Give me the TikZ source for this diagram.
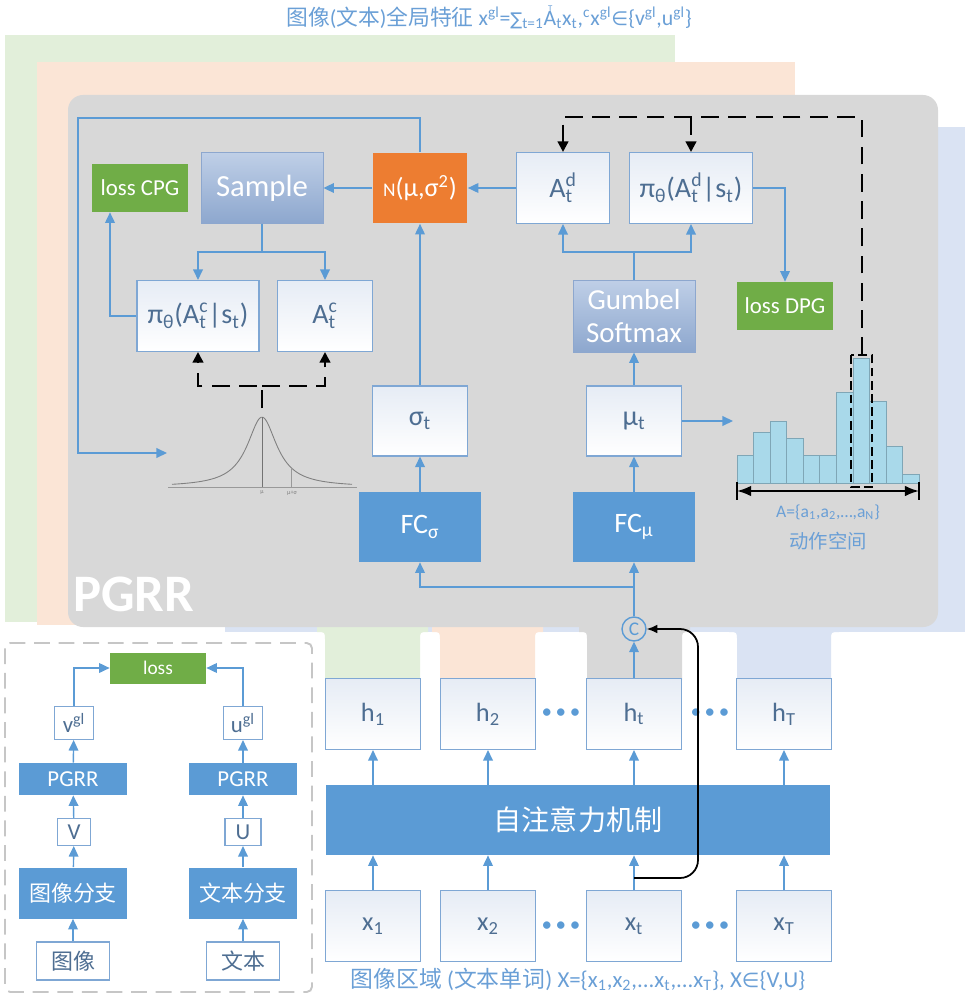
\documentclass[tikz,border=0pt]{standalone}
\usepackage{fontspec}
\setmainfont{Carlito}
\newfontfamily\cjk{Noto Sans CJK SC}
\newfontfamily\symf{DejaVu Sans}
\usepackage{tikz}
\usetikzlibrary{calc}
\usetikzlibrary{arrows.meta}
\usetikzlibrary{positioning}
\definecolor{pblue}{HTML}{5B9BD5}
\definecolor{pgreen}{HTML}{70AD47}
\definecolor{porange}{HTML}{ED7D31}
\definecolor{pgray}{HTML}{D8D8D8}
\definecolor{bggreen}{HTML}{E2EFDA}
\definecolor{bgorange}{HTML}{FBE5D6}
\definecolor{bgblue}{HTML}{DAE3F3}
\definecolor{boxtext}{HTML}{4E6E92}
\definecolor{boxline}{HTML}{7FA7D4}
\definecolor{boxtop}{HTML}{E6ECF5}
\definecolor{histfill}{HTML}{A9D9EA}
\definecolor{histline}{HTML}{7FA6B6}
\definecolor{capblue}{HTML}{6A9FD6}
\definecolor{gradtop}{HTML}{BFCFE7}
\definecolor{gradbot}{HTML}{8DA7CE}
\newcommand{\supsub}[2]{\ooalign{\textsuperscript{#1}\cr\textsubscript{#2}\cr}}
\newcommand{\topA}{\makebox[0pt][l]{\raisebox{1.35ex}{\hspace{0.2em}\fontsize{5}{5}\selectfont T}}A}
\newcommand{\legtab}[3]{\fill[#3] (#1-8,615) -- (#1-8,632) .. controls (#1,632) .. (#1,640) -- (#1,680) -- (#2,680) -- (#2,640) .. controls (#2,632) .. (#2+8,632) -- (#2+8,615) -- cycle;}
\tikzset{>=latex}
\tikzset{
  wbox/.style = {rectangle, draw=boxline, line width=0.6pt, top color=boxtop, bottom color=white, text=boxtext, inner sep=0, minimum width=1.9cm, minimum height=1.42cm, font=\fontsize{16}{18}\selectfont},
  fcbox/.style = {rectangle, fill=pblue, text=white, inner sep=0, minimum width=2.44cm, minimum height=1.4cm, font=\fontsize{16}{18}\selectfont},
  lossbox/.style = {rectangle, fill=pgreen, text=white, inner sep=0, minimum width=1.92cm, minimum height=0.96cm, font=\fontsize{13}{14}\selectfont},
  gradbox/.style = {rectangle, draw=gradbot, line width=0.5pt, top color=gradtop, bottom color=gradbot, text=white, inner sep=0, minimum width=2.44cm, minimum height=1.42cm, font=\fontsize{17.5}{19}\selectfont},
  sbox/.style = {rectangle, draw=boxline, line width=0.6pt, fill=white, text=boxtext, inner sep=0, minimum width=0.78cm, minimum height=0.66cm, font=\fontsize{13}{14}\selectfont},
  sfc/.style = {rectangle, fill=pblue, text=white, inner sep=0, minimum width=2.16cm, minimum height=0.64cm, font=\fontsize{13}{14}\selectfont},
  arr/.style = {draw=pblue, line width=0.8pt, -{Triangle[length=6pt,width=5.5pt]}},
  dasharr/.style = {draw=black, line width=1.3pt, dash pattern=on 10pt off 5.5pt, -{Triangle[length=6pt,width=6pt]}},
  blkarr/.style = {draw=black, line width=1pt, -{Latex[length=6pt,width=5pt]}},
  dotsnode/.style = {text=pblue, inner sep=0, font=\fontsize{12}{12}\selectfont},
  captxt/.style = {text=capblue, inner sep=0},
  histbar/.style = {fill=histfill, draw=histline, line width=0.4pt}
}
\begin{document}
\begin{tikzpicture}[x=0.02cm, y=-0.02cm]
\useasboundingbox (0,0) rectangle (971,1000);
% stacked background panels
\fill[bggreen] (5,35) rectangle (675,622);
\fill[bgorange] (37,62) rectangle (795,625);
\fill[bgblue] (225,127) rectangle (965,632);
\legtab{325}{420}{bggreen}
\legtab{440}{535}{bgorange}
\legtab{737}{831}{bgblue}
\fill[pgray, rounded corners=0.3cm] (68,95) rectangle (938,627);
\legtab{587}{682}{pgray}
\node[text=white, inner sep=0, anchor=base west, font=\bfseries\fontsize{30}{30}\selectfont] (pgrr) at (73,611) {PGRR};

\node[captxt, font=\fontsize{12.4}{14}\selectfont] (title) at (489,17) {{\cjk 图像}({\cjk 文本}){\cjk 全局特征} x\textsuperscript{gl}={\symf\fontsize{10}{12}\selectfont ∑}\textsubscript{t=1}\topA\textsubscript{t}x\textsubscript{t},\textsuperscript{c}x\textsuperscript{gl}{\symf\fontsize{11}{12}\selectfont ∈}\{v\textsuperscript{gl},u\textsuperscript{gl}\}};

% upper part
\node[lossbox] (lossCPG) at (140,188) {loss CPG};
\node[gradbox] (smp) at (262,188) {Sample};
\node[rectangle, fill=porange, text=white, inner sep=0, minimum width=1.9cm, minimum height=1.42cm, font=\fontsize{15}{17}\selectfont] (nrm) at (420,188) {{\fontsize{11}{12}\selectfont N}(μ,σ\textsuperscript{2})};
\node[wbox, minimum width=1.86cm] (Ad) at (563,188) {A\supsub{d}{t}};
\node[wbox, minimum width=2.46cm] (piAd) at (691,188) {π\textsubscript{θ}(A\supsub{d}{t}|s\textsubscript{t})};
\node[wbox, minimum width=2.44cm] (piAc) at (198,316) {π\textsubscript{θ}(A\supsub{c}{t}|s\textsubscript{t})};
\node[wbox] (Ac) at (325,316) {A\supsub{c}{t}};
\node[gradbox, minimum height=1.44cm, align=center, font=\fontsize{16.5}{19}\selectfont] (gum) at (634,316) {Gumbel\\Softmax};
\node[lossbox] (lossDPG) at (785,306) {loss DPG};
\node[wbox, minimum height=1.4cm] (sig) at (420,421) {σ\textsubscript{t}};
\node[wbox, minimum height=1.4cm] (mu) at (634,421) {μ\textsubscript{t}};
\node[fcbox] (fcs) at (420,527) {FC\textsubscript{σ}};
\node[fcbox] (fcm) at (634,527) {FC\textsubscript{μ}};
\node[circle, draw=pblue, line width=0.8pt, text=pblue, inner sep=0, minimum size=0.48cm, font=\fontsize{11}{11}\selectfont] (cat) at (634,629) {C};

% gaussian
\draw[gray!80, line width=0.5pt] (168,487) -- (357,487);
\draw[gray, line width=0.5pt, domain=172:352, samples=90, smooth] plot (\x, {487-70/(1+((\x-262)/18)^2)});
\draw[gray!90!black, line width=0.4pt] (262,417) -- (262,487);
\draw[gray!80, line width=0.3pt] (291,467.5) -- (291,487);
\node[text=gray, inner sep=0, font=\fontsize{3.5}{4}\selectfont] (mulab) at (262,493) {μ};
\node[text=gray, inner sep=0, font=\fontsize{3.5}{4}\selectfont] (msig) at (292,493) {μ+σ};
\coordinate (gtop) at (262,408);
\coordinate (gsplit) at (262,386);
\coordinate (gin) at (167,453);
\coordinate (ltop) at (78,118);

% action space histogram
\foreach \t [count=\i] in {455,432,421,438,455,455,392,358,401,446,474}
  \draw[histbar] ({737+(\i-1)*16.55},483) rectangle ({737+\i*16.55},\t);
\draw[black, line width=1.1pt, dash pattern=on 5pt off 2.5pt] (851,355) rectangle (872,487);
\coordinate (pk) at (862,355);
\coordinate (dtop) at (862,117);
\coordinate (hin) at (733,421);
\coordinate (ha) at (737,491);
\coordinate (hb) at (919,491);
\draw[black, line width=1.1pt, {Latex[length=8pt,width=6pt]}-{Latex[length=8pt,width=6pt]}] (ha) -- (hb);
\draw[black, line width=1.1pt] ($(ha)+(0,-9)$) -- ($(ha)+(0,9)$);
\draw[black, line width=1.1pt] ($(hb)+(0,-9)$) -- ($(hb)+(0,9)$);
\node[captxt, font=\fontsize{10}{12}\selectfont] (aset) at (828,512) {A=\{a\textsubscript{1},a\textsubscript{2},…,a\textsubscript{N}\}};
\node[captxt, font=\cjk\fontsize{11}{12}\selectfont] (aspace) at (828,541) {动作空间};

% hidden states and inputs
\node[wbox, font=\fontsize{15}{17}\selectfont] (h1) at (373,714) {h\textsubscript{1}};
\node[wbox, font=\fontsize{15}{17}\selectfont] (h2) at (488,714) {h\textsubscript{2}};
\node[wbox, font=\fontsize{15}{17}\selectfont] (ht) at (634,714) {h\textsubscript{t}};
\node[wbox, font=\fontsize{15}{17}\selectfont] (hT) at (784,714) {h\textsubscript{T}};
\node[dotsnode] (hd1) at (561,714) {•\,•\,•};
\node[dotsnode] (hd2) at (710,714) {•\,•\,•};
\node[rectangle, fill=pblue, text=white, inner sep=0, minimum width=10.1cm, minimum height=1.4cm, font=\cjk\fontsize{16}{18}\selectfont] (att) at (578,820) {自注意力机制};
\node[wbox, minimum height=1.42cm, font=\fontsize{15}{17}\selectfont] (x1) at (373,926) {x\textsubscript{1}};
\node[wbox, minimum height=1.42cm, font=\fontsize{15}{17}\selectfont] (x2) at (488,926) {x\textsubscript{2}};
\node[wbox, minimum height=1.42cm, font=\fontsize{15}{17}\selectfont] (xt) at (634,926) {x\textsubscript{t}};
\node[wbox, minimum height=1.42cm, font=\fontsize{15}{17}\selectfont] (xT) at (784,926) {x\textsubscript{T}};
\node[dotsnode] (xd1) at (561,927) {•\,•\,•};
\node[dotsnode] (xd2) at (710,927) {•\,•\,•};
\node[captxt, font=\fontsize{13}{14}\selectfont] (xcap) at (578,979) {{\cjk 图像区域} ({\cjk 文本单词}) X=\{x\textsubscript{1},x\textsubscript{2},...x\textsubscript{t},...x\textsubscript{T}\}, X{\symf\fontsize{11.5}{12}\selectfont ∈}\{V,U\}};

% connectors
\draw[arr] (x1) -- (x1 |- att.south);
\draw[arr] (x2) -- (x2 |- att.south);
\draw[arr] (xt) -- (xt |- att.south);
\draw[arr] (xT) -- (xT |- att.south);
\draw[arr] (att.north -| h1) -- (h1);
\draw[arr] (att.north -| h2) -- (h2);
\draw[arr] (att.north -| ht) -- (ht);
\draw[arr] (att.north -| hT) -- (hT);
\draw[arr] (ht) -- (cat);
\draw[arr] (cat) -- ++(0,-42) -| (fcs);
\draw[arr] (cat) -- (fcm);
\draw[arr] (fcs) -- (sig);
\draw[arr] (fcm) -- (mu);
\draw[arr] (sig) -- (nrm);
\draw[arr] (mu) -- (gum);
\draw[arr] (mu) -- (hin);
\draw[arr] (gum) -- ++(0,-64) -| (Ad);
\draw[arr] (gum) -- ++(0,-64) -| (piAd);
\draw[arr] (Ad) -- (nrm);
\draw[arr] (nrm) -- (smp);
\draw[arr] (smp) -- ++(0,64) -| (piAc);
\draw[arr] (smp) -- ++(0,64) -| (Ac);
\draw[arr] (piAc.west) -| ($(lossCPG.south)+(-30,0)$);
\draw[arr] (piAd.east) -| (lossDPG);
\draw[arr] (nrm) |- (ltop) |- (gin);
\draw[dasharr] (pk) -- (dtop) -| (Ad);
\draw[dasharr] (piAd |- dtop) -- (piAd);
\draw[dasharr] (gtop) -- (gsplit) -| (piAc);
\draw[dasharr] (gsplit) -| (Ac);
\coordinate (xtap) at (634,878);
\draw[blkarr, rounded corners=0.36cm] (xtap) -- (698,878) -- (698,629) -- (cat);

% two-branch inset
\draw[gray!45, line width=1.1pt, dash pattern=on 9pt off 5pt, rounded corners=3pt] (5,643) rectangle (312,992);
\node[lossbox, minimum height=0.62cm, font=\fontsize{11}{12}\selectfont] (loss) at (158,668) {loss};
\node[sbox] (vgl) at (74,723) {v\textsuperscript{gl}};
\node[sbox] (ugl) at (243,723) {u\textsuperscript{gl}};
\node[sfc] (pgrrL) at (73,779) {PGRR};
\node[sfc] (pgrrR) at (243,779) {PGRR};
\node[sbox, minimum width=0.66cm, minimum height=0.54cm] (V) at (74,832) {V};
\node[sbox, minimum width=0.72cm, minimum height=0.54cm] (U) at (243,832) {U};
\node[sfc, minimum height=1.02cm, font=\cjk\fontsize{12.5}{14}\selectfont] (brL) at (73,893) {图像分支};
\node[sfc, minimum height=1.02cm, font=\cjk\fontsize{12.5}{14}\selectfont] (brR) at (243,893) {文本分支};
\node[sbox, minimum width=1.46cm, minimum height=0.76cm, font=\cjk\fontsize{12.5}{14}\selectfont] (img) at (73,961) {图像};
\node[sbox, minimum width=1.46cm, minimum height=0.76cm, font=\cjk\fontsize{12.5}{14}\selectfont] (txt) at (243,961) {文本};
\draw[arr] (img) -- (brL);
\draw[arr] (brL) -- (V);
\draw[arr] (V) -- (pgrrL);
\draw[arr] (pgrrL) -- (vgl);
\draw[arr] (vgl) |- (loss);
\draw[arr] (txt) -- (brR);
\draw[arr] (brR) -- (U);
\draw[arr] (U) -- (pgrrR);
\draw[arr] (pgrrR) -- (ugl);
\draw[arr] (ugl) |- (loss);
\end{tikzpicture}
\end{document}
